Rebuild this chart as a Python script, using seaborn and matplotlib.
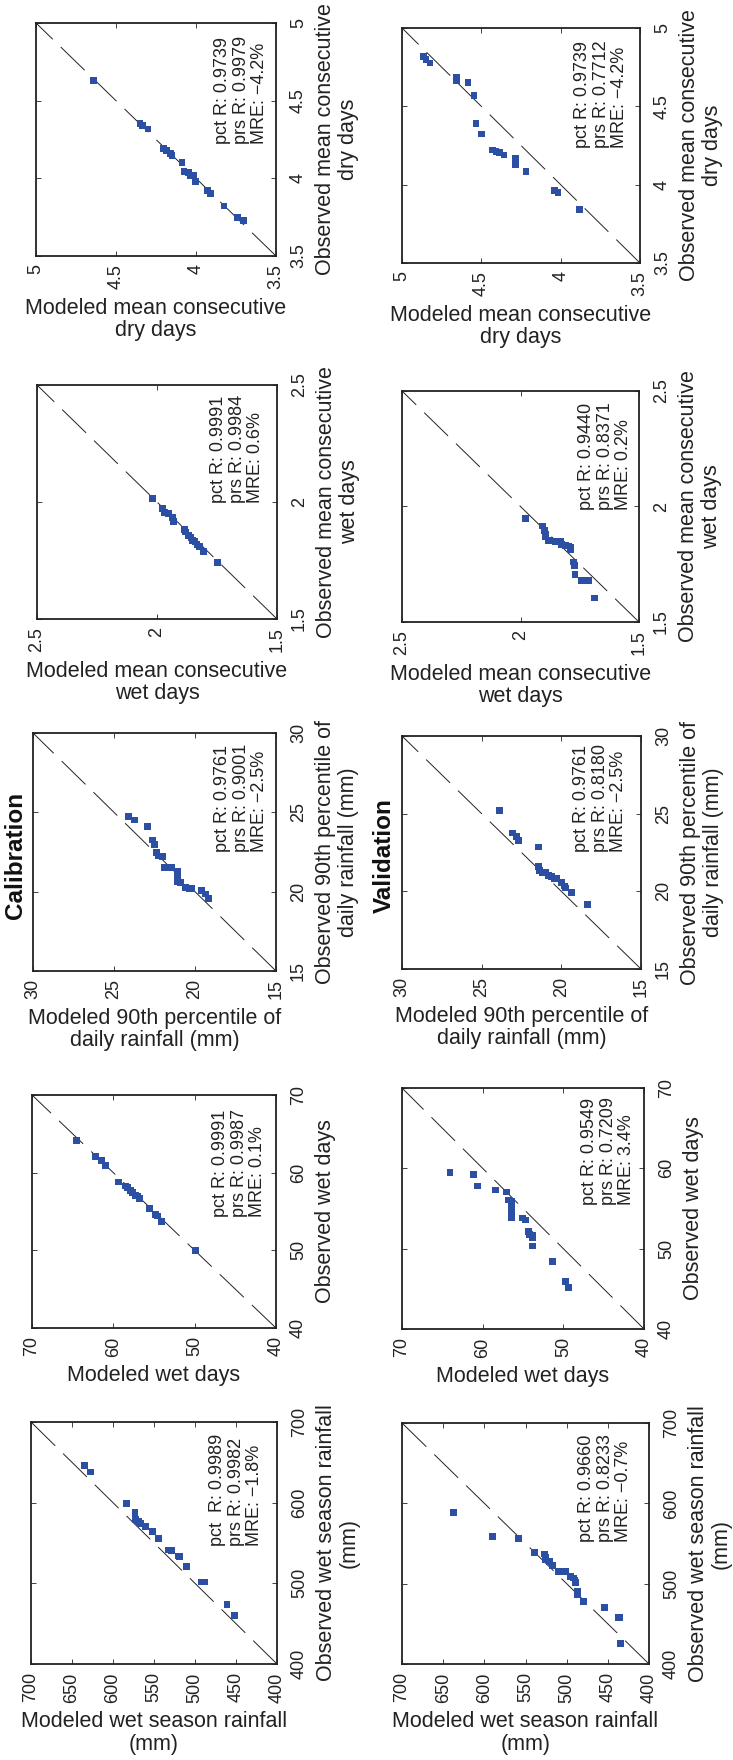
import matplotlib
matplotlib.use("Agg")
import matplotlib.pyplot as plt
import seaborn as sns

sns.set_style("white")
plt.rcParams["font.family"] = ["Liberation Sans", "DejaVu Sans"]
plt.rcParams["lines.scale_dashes"] = False

# ---------------- data (modeled, observed) ----------------
cal_dry_mod = [4.642, 4.350, 4.333, 4.300, 4.204, 4.183, 4.158, 4.150, 4.088, 4.075,
               4.046, 4.038, 4.013, 4.004, 3.929, 3.908, 3.825, 3.742, 3.704]
cal_dry_obs = [4.630, 4.351, 4.338, 4.317, 4.192, 4.179, 4.162, 4.149, 4.102, 4.046,
               4.037, 4.020, 4.016, 3.979, 3.921, 3.904, 3.822, 3.749, 3.728]
val_dry_mod = [4.866, 4.849, 4.824, 4.655, 4.655, 4.584, 4.546, 4.534, 4.500, 4.429,
               4.408, 4.387, 4.357, 4.286, 4.286, 4.286, 4.218, 4.038, 4.017, 3.882]
val_dry_obs = [4.819, 4.797, 4.776, 4.686, 4.665, 4.652, 4.567, 4.388, 4.324, 4.221,
               4.211, 4.204, 4.189, 4.166, 4.144, 4.127, 4.083, 3.961, 3.952, 3.844]

cal_wetc_mod = [2.019, 1.978, 1.969, 1.953, 1.936, 1.931, 1.886, 1.881, 1.869, 1.858,
                1.853, 1.842, 1.833, 1.822, 1.806, 1.747]
cal_wetc_obs = [2.014, 1.972, 1.955, 1.952, 1.935, 1.918, 1.881, 1.872, 1.858, 1.849,
                1.835, 1.830, 1.818, 1.810, 1.787, 1.741]
val_wetc_mod = [1.978, 1.907, 1.899, 1.893, 1.893, 1.882, 1.854, 1.831, 1.826, 1.809,
                1.798, 1.789, 1.789, 1.775, 1.772, 1.770, 1.742, 1.713, 1.688]
val_wetc_obs = [1.948, 1.916, 1.897, 1.879, 1.869, 1.854, 1.847, 1.847, 1.835, 1.832,
                1.829, 1.821, 1.812, 1.760, 1.743, 1.705, 1.679, 1.679, 1.604]

cal_p90_mod = [24.11, 23.74, 22.91, 22.62, 22.50, 22.38, 22.25, 22.01, 21.88, 21.43,
               21.06, 21.06, 21.06, 20.89, 20.60, 20.32, 20.23, 19.62, 19.33, 19.16]
cal_p90_obs = [24.73, 24.52, 24.10, 23.26, 22.96, 22.46, 22.25, 22.20, 21.53, 21.53,
               21.28, 20.90, 20.65, 20.56, 20.27, 20.22, 20.18, 20.06, 19.85, 19.55]
val_p90_mod = [23.86, 23.06, 22.81, 22.69, 21.43, 21.43, 21.39, 21.18, 20.97, 20.81,
               20.64, 20.43, 20.31, 20.01, 19.80, 19.72, 19.35, 18.34]
val_p90_obs = [25.22, 23.76, 23.51, 23.29, 22.86, 21.58, 21.36, 21.19, 21.19, 21.02,
               20.98, 20.85, 20.85, 20.59, 20.34, 20.21, 19.91, 19.14]

cal_wd_mod = [64.54, 62.16, 61.42, 60.93, 59.37, 58.47, 58.22, 57.89, 57.65, 57.24,
              57.07, 56.74, 55.51, 54.77, 54.53, 54.04, 49.93]
cal_wd_obs = [64.15, 62.08, 61.56, 60.88, 58.81, 58.29, 58.12, 57.69, 57.43, 57.09,
              57.00, 56.66, 55.37, 54.59, 54.42, 53.73, 49.94]
val_wd_mod = [64.06, 61.09, 60.67, 58.36, 57.04, 56.80, 56.47, 56.47, 56.47, 56.47,
              56.47, 55.06, 54.65, 54.32, 54.15, 53.82, 53.82, 53.82, 51.35, 49.70, 49.37]
val_wd_obs = [59.53, 59.28, 57.79, 57.30, 57.05, 56.06, 55.89, 55.39, 54.98, 54.48,
              53.82, 53.82, 53.57, 52.17, 51.75, 51.67, 51.34, 50.34, 48.36, 45.88, 45.17]

cal_ws_mod = [635.0, 627.6, 583.7, 573.2, 573.2, 572.4, 569.1, 566.7, 560.2, 552.0,
              544.7, 532.5, 528.5, 520.3, 518.7, 510.6, 491.9, 488.6, 461.0, 452.0]
cal_ws_obs = [646.3, 638.0, 599.2, 588.4, 584.3, 579.3, 576.9, 574.4, 570.2, 564.5,
              555.4, 541.3, 540.5, 533.9, 533.1, 520.7, 501.7, 501.7, 473.6, 460.3]
val_ws_mod = [637.7, 590.0, 558.5, 539.1, 527.0, 526.1, 525.3, 520.5, 517.3, 510.0,
              501.1, 495.4, 491.4, 489.8, 488.9, 486.5, 486.5, 479.2, 454.2, 437.2, 435.6, 434.8]
val_ws_obs = [588.4, 558.5, 556.0, 538.6, 536.9, 532.8, 529.5, 527.8, 522.8, 515.4,
              515.4, 508.7, 507.1, 504.6, 501.2, 490.5, 486.3, 478.0, 470.5, 458.1, 458.1, 425.7]

# axis ranges and ticks
dry_lim = [3.5, 5.0]
dry_ticks = [3.5, 4.0, 4.5, 5.0]
wetc_lim = [1.5, 2.5]
wetc_ticks = [1.5, 2.0, 2.5]
p90_lim = [15, 30]
p90_ticks = [15, 20, 25, 30]
wd_lim = [40, 70]
wd_ticks = [40, 50, 60, 70]
ws_lim = [400, 700]
ws_mod_ticks = [400, 450, 500, 550, 600, 650, 700]
ws_obs_ticks = [400, 500, 600, 700]

# labels
xlab = ["Modeled mean consecutive\ndry days", "Modeled mean consecutive\nwet days",
        "Modeled 90th percentile of\ndaily rainfall (mm)", "Modeled wet days",
        "Modeled wet season rainfall\n(mm)"]
ylab = ["Observed mean consecutive\ndry days", "Observed mean consecutive\nwet days",
        "Observed 90th percentile of\ndaily rainfall (mm)", "Observed wet days",
        "Observed wet season rainfall\n(mm)"]

cal_stats = ["pct R: 0.9739\nprs R: 0.9979\nMRE: \u22124.2%",
             "pct R: 0.9991\nprs R: 0.9984\nMRE: 0.6%",
             "pct R: 0.9761\nprs R: 0.9001\nMRE: \u22122.5%",
             "pct R: 0.9991\nprs R: 0.9987\nMRE: 0.1%",
             "pct  R: 0.9989\nprs R: 0.9982\nMRE: \u22121.8%"]
val_stats = ["pct R: 0.9739\nprs R: 0.7712\nMRE: \u22124.2%",
             "pct R: 0.9440\nprs R: 0.8371\nMRE: 0.2%",
             "pct R: 0.9761\nprs R: 0.8180\nMRE: \u22122.5%",
             "pct R: 0.9549\nprs R: 0.7209\nMRE: 3.4%",
             "pct R: 0.9660\nprs R: 0.8233\nMRE: \u22120.7%"]

# ---------------- layout ----------------
W, H = 733, 1760
fig = plt.figure(figsize=(W / 100, H / 100), dpi=100)

# pixel boxes (x0, y0, x1, y1) for each panel, row-major: (cal, val)
boxes = [
    [(36, 23, 276, 256), (402, 28, 640, 263)],
    [(37, 385, 277, 619), (402, 391, 639, 622)],
    [(33, 733, 276, 971), (402, 736, 641, 969)],
    [(32, 1095, 276, 1328), (402, 1088, 644, 1329)],
    [(31, 1422, 277, 1664), (402, 1423, 649, 1664)],
]
# target (left, bottom) pixel of the stats text block
text_px = [
    [(214, 144), (574, 148)],
    [(210, 503), (578, 510)],
    [(214, 852), (573, 852)],
    [(212, 1217), (581, 1205)],
    [(209, 1546), (578, 1542)],
]

rows = [
    (cal_dry_mod, cal_dry_obs, val_dry_mod, val_dry_obs, dry_lim, dry_ticks, dry_ticks),
    (cal_wetc_mod, cal_wetc_obs, val_wetc_mod, val_wetc_obs, wetc_lim, wetc_ticks, wetc_ticks),
    (cal_p90_mod, cal_p90_obs, val_p90_mod, val_p90_obs, p90_lim, p90_ticks, p90_ticks),
    (cal_wd_mod, cal_wd_obs, val_wd_mod, val_wd_obs, wd_lim, wd_ticks, wd_ticks),
    (cal_ws_mod, cal_ws_obs, val_ws_mod, val_ws_obs, ws_lim, ws_mod_ticks, ws_obs_ticks),
]

MARK = "#2b50a3"


def fmt(v):
    return "{:g}".format(v)


texts = []
for r, (cm, co, vm, vo, lim, xt, yt) in enumerate(rows):
    for c, (mod, obs, stats) in enumerate([(cm, co, cal_stats[r]), (vm, vo, val_stats[r])]):
        x0, y0, x1, y1 = boxes[r][c]
        ax = fig.add_axes([x0 / W, 1 - y1 / H, (x1 - x0) / W, (y1 - y0) / H])
        ax.plot(lim, lim, color="#222222", lw=0.7, dashes=(24, 8), zorder=1)
        sns.scatterplot(x=mod, y=obs, ax=ax, marker="s", s=24, color=MARK,
                        edgecolor="none", linewidth=0, zorder=3)
        ax.set_xlim(lim[1], lim[0])
        ax.set_ylim(lim[0], lim[1])
        ax.set_xticks(xt)
        ax.set_xticklabels([fmt(v) for v in xt], rotation=90, fontsize=13,
                           va="top", ha="center")
        ax.set_yticks(yt)
        ax.yaxis.tick_right()
        ax.set_yticklabels([fmt(v) for v in yt], rotation=90, fontsize=13,
                           va="center", ha="left")
        ax.tick_params(axis="both", direction="in", length=3.5, width=0.6,
                       top=True, bottom=True, left=True, right=True,
                       labelleft=False, labelright=True, colors="#222222")
        ax.tick_params(axis="x", pad=6)
        ax.tick_params(axis="y", pad=10)
        for sp in ax.spines.values():
            sp.set_linewidth(1.3)
            sp.set_color("#222222")
            sp.set_visible(True)
        ax.set_xlabel(xlab[r], fontsize=15.5, color="#222222", labelpad=6,
                      linespacing=1.1)
        ax.yaxis.set_label_position("right")
        ax.set_ylabel(ylab[r], fontsize=15.5, color="#222222", labelpad=6,
                      rotation=90, linespacing=1.1)
        t = ax.text(0.75, 0.5, stats, transform=ax.transAxes, rotation=90, fontsize=13,
                    ha="left", va="bottom", multialignment="left", linespacing=1.12,
                    color="#222222")
        texts.append((ax, t, text_px[r][c]))

fig.text(16 / W, 1 - 855 / H, "Calibration", rotation=90, fontsize=17.5,
         fontweight="bold", ha="center", va="center", color="#111111")
fig.text(384 / W, 1 - 856 / H, "Validation", rotation=90, fontsize=17.5,
         fontweight="bold", ha="center", va="center", color="#111111")

# place stats blocks precisely at their measured pixel positions
fig.canvas.draw()
renderer = fig.canvas.get_renderer()
for ax, t, (px, py) in texts:
    bb = t.get_window_extent(renderer)
    dx = px - bb.x0
    dy = (H - py) - bb.y0
    cur = ax.transAxes.transform(t.get_position())
    t.set_position(ax.transAxes.inverted().transform((cur[0] + dx, cur[1] + dy)))

fig.savefig("out.png", dpi=100, facecolor="white")
